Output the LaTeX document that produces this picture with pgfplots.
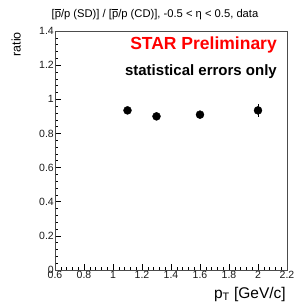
\documentclass[border=0pt]{standalone}
\usepackage{fontspec}
\setmainfont{Liberation Sans}
\usepackage{pgfplots}
\pgfplotsset{compat=1.18}
\newcommand{\pbar}{$\overline{\mbox{p}}$}
\begin{document}
\begin{tikzpicture}[x=1pt,y=1pt]
\useasboundingbox (0,0) rectangle (297,306);
\begin{axis}[
  at={(55pt,36pt)}, anchor=south west,
  width=232pt, height=239pt, scale only axis,
  xmin=0.6, xmax=2.2, ymin=0, ymax=1.4,
  xtick={0.6,0.8,...,2.2}, ytick={0,0.2,...,1.4},
  xticklabels={0.6,0.8,1,1.2,1.4,1.6,1.8,2,2.2},
  yticklabels={0,0.2,0.4,0.6,0.8,1,1.2,1.4},
  minor tick num=4,
  tick pos=left,
  tick align=inside,
  major tick length=6pt, minor tick length=3pt,
  tick style={black, line width=0.5pt},
  axis line style={gray!60!black, line width=0.6pt},
  ticklabel style={font=\fontsize{10.5}{11}\selectfont, text=black!90, inner sep=1pt},
  /pgf/number format/assume math mode=true,
  clip=false,
]
\addplot+[only marks, mark=*, mark size=4pt, black, mark options={fill=black},
  error bars/.cd, y dir=both, y explicit, error bar style={line width=0.8pt}, error mark=none]
  coordinates {
  (1.1,0.935) +- (0,0.015)
  (1.3,0.900) +- (0,0.015)
  (1.6,0.910) +- (0,0.015)
  (2.0,0.935) +- (0,0.040)
  };
\node[anchor=base, font=\fontsize{11.2}{12}\selectfont, inner sep=0]
  at ([xshift=-16pt,yshift=14pt]rel axis cs:0.5,1)
  {[\pbar/p (SD)] / [\pbar/p (CD)], -0.5 < η < 0.5, data};
\node[rotate=90, anchor=south east, inner sep=0, font=\fontsize{12.5}{14}\selectfont]
  at ([xshift=-34pt,yshift=-1pt]rel axis cs:0,1) {ratio};
\node[anchor=north east, inner sep=0, font=\fontsize{15.5}{17}\selectfont]
  at ([yshift=-17pt,xshift=-1pt]rel axis cs:1,0) {p\textsubscript{T} [GeV/c]};
\node[anchor=north east, inner sep=0, text=red, font=\fontsize{17.5}{20}\bfseries]
  at ([xshift=-10pt,yshift=-6pt]rel axis cs:1,1) {STAR Preliminary};
\node[anchor=north east, inner sep=0, text=black, font=\fontsize{15}{17}\bfseries]
  at ([xshift=-10pt,yshift=-33pt]rel axis cs:1,1) {statistical errors only};
\end{axis}
\end{tikzpicture}
\end{document}
